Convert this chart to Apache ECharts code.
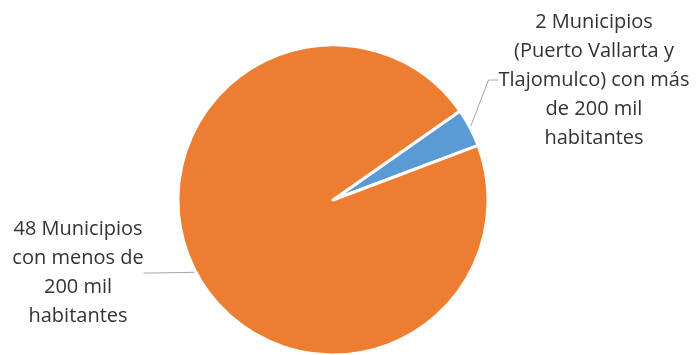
<!DOCTYPE html>
<html>
<head>
<meta charset="utf-8">
<script src="https://cdn.jsdelivr.net/npm/echarts@6/dist/echarts.min.js"></script>
<style>
  html, body { margin: 0; padding: 0; background: #fff; }
  #mychart { width: 698px; height: 355px; }
</style>
</head>
<body>
<div id="mychart"></div>
<script>
// datos del gráfico
var categorias = [
  "2 Municipios\n(Puerto Vallarta y\nTlajomulco) con más\nde 200 mil\nhabitantes",
  "48 Municipios\ncon menos de\n200 mil\nhabitantes"
];
var valores = [2, 48];
var colores = ["#5B9BD5", "#ED7D31"];

var myChart = echarts.init(document.getElementById("mychart"));

var option = {
  animation: false,
  color: colores,
  series: [
    {
      type: "pie",
      center: [333, 200],
      radius: 155,
      startAngle: 35,
      clockwise: true,
      data: valores.map(function (v, i) {
        return { name: categorias[i], value: v };
      }),
      itemStyle: {
        borderColor: "#ffffff",
        borderWidth: 3
      },
      label: {
        show: true,
        position: "outside",
        formatter: "{b}",
        color: "#333333",
        fontFamily: "Open Sans",
        fontSize: 20,
        lineHeight: 29,
        align: "center"
      },
      labelLine: {
        show: true,
        length: 12,
        length2: 10,
        lineStyle: { color: "#a6a6a6", width: 1 }
      },
      labelLayout: function (params) {
        // posiciones fijas de las etiquetas como en el original
        if (params.dataIndex === 0) {
          return { x: 594, y: 80, align: "center", verticalAlign: "middle" };
        }
        return { x: 78, y: 273, align: "center", verticalAlign: "middle" };
      }
    }
  ]
};

myChart.setOption(option);
window.addEventListener("resize", function () {
  myChart.resize();
});
</script>
</body>
</html>
